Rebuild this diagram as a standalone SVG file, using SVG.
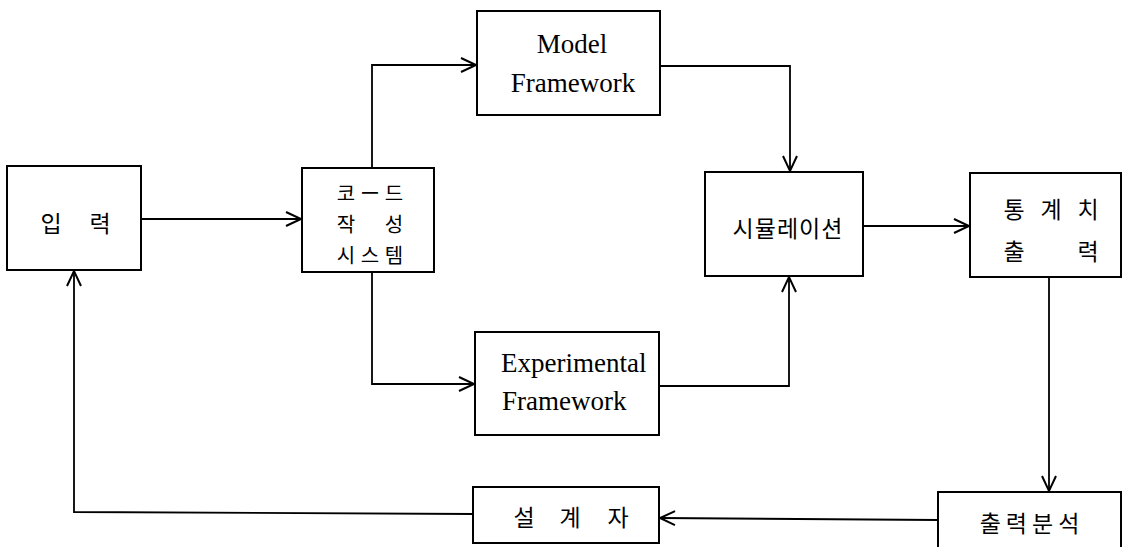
<svg xmlns="http://www.w3.org/2000/svg" width="1127" height="547" viewBox="0 0 1127 547">
  <defs>
    <marker id="open-arrow" markerUnits="userSpaceOnUse" markerWidth="20" markerHeight="20" viewBox="-16 -10 20 20" refX="0" refY="0" orient="auto">
      <path d="M -15 -7 L 0 0 L -15 7" fill="none" stroke="#000" stroke-width="2"/>
    </marker>
  </defs>
  <style>
    .box { fill: #fff; stroke: #000; stroke-width: 2; }
    .link { fill: none; stroke: #000; stroke-width: 1.8; }
    .ko { font-family: "Noto Sans CJK KR", "Noto Sans", sans-serif; font-size: 23px; fill: #000; }
    .ko-sm { font-size: 20px; }
    .en { font-family: "Liberation Serif", "Times New Roman", serif; font-size: 27px; fill: #000; }
    .mid { text-anchor: middle; dominant-baseline: central; }
  </style>
  <rect width="1127" height="547" fill="#fff"/>

  <!-- connectors -->
  <g id="connectors">
    <path class="link" d="M 141 219 L 301 219" marker-end="url(#open-arrow)"/>
    <path class="link" d="M 372 168 L 372 65 L 476 65" marker-end="url(#open-arrow)"/>
    <path class="link" d="M 372 272 L 372 384 L 474 384" marker-end="url(#open-arrow)"/>
    <path class="link" d="M 660 66 L 790 66 L 790 171" marker-end="url(#open-arrow)"/>
    <path class="link" d="M 659 386 L 789 386 L 789 277" marker-end="url(#open-arrow)"/>
    <path class="link" d="M 863 226 L 969 226" marker-end="url(#open-arrow)"/>
    <path class="link" d="M 1049 277 L 1049 491" marker-end="url(#open-arrow)"/>
    <path class="link" d="M 938 520 L 660 518" marker-end="url(#open-arrow)"/>
    <path class="link" d="M 473 514 L 74 512 L 74 271" marker-end="url(#open-arrow)"/>
  </g>

  <!-- input -->
  <g id="input">
    <rect class="box" x="7" y="166" width="134" height="104"/>
    <text class="ko mid" y="222"><tspan x="51">입</tspan><tspan x="100">력</tspan></text>
  </g>

  <!-- code generation system -->
  <g id="code-gen">
    <rect class="box" x="302" y="168" width="132" height="104"/>
    <text class="ko ko-sm mid" y="192"><tspan x="346">코</tspan><tspan x="370">ー</tspan><tspan x="394">드</tspan></text>
    <text class="ko ko-sm mid" y="223"><tspan x="346">작</tspan><tspan x="394">성</tspan></text>
    <text class="ko ko-sm mid" y="254"><tspan x="346">시</tspan><tspan x="370">스</tspan><tspan x="394">템</tspan></text>
  </g>

  <!-- model framework -->
  <g id="model-framework">
    <rect class="box" x="477" y="11" width="183" height="104"/>
    <text class="en" x="572" y="53" text-anchor="middle">Model</text>
    <text class="en" x="573" y="92" text-anchor="middle">Framework</text>
  </g>

  <!-- experimental framework -->
  <g id="experimental-framework">
    <rect class="box" x="475" y="332" width="184" height="103"/>
    <text class="en" x="501" y="372">Experimental</text>
    <text class="en" x="502" y="410">Framework</text>
  </g>

  <!-- simulation -->
  <g id="simulation">
    <rect class="box" x="705" y="172" width="158" height="104"/>
    <text class="ko mid" x="788" y="227" letter-spacing="1">시뮬레이션</text>
  </g>

  <!-- statistics output -->
  <g id="statistics-output">
    <rect class="box" x="970" y="173" width="151" height="104"/>
    <text class="ko mid" y="208"><tspan x="1014">통</tspan><tspan x="1051">계</tspan><tspan x="1088">치</tspan></text>
    <text class="ko mid" y="250"><tspan x="1014">출</tspan><tspan x="1088">력</tspan></text>
  </g>

  <!-- output analysis -->
  <g id="output-analysis">
    <rect class="box" x="938" y="492" width="183" height="70"/>
    <text class="ko mid" x="1032" y="522" letter-spacing="5">출력분석</text>
  </g>

  <!-- designer -->
  <g id="designer">
    <rect class="box" x="473" y="487" width="186" height="56"/>
    <text class="ko mid" y="516"><tspan x="524">설</tspan><tspan x="570">계</tspan><tspan x="618">자</tspan></text>
  </g>
</svg>
